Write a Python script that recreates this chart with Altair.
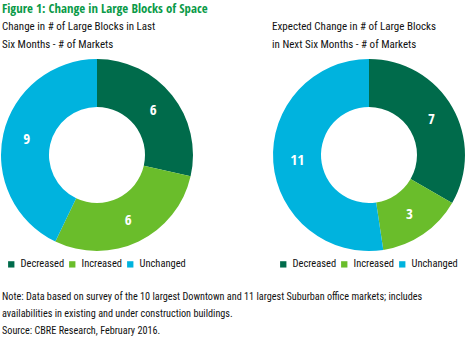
import altair as alt
import pandas as pd

categories = ["Decreased", "Increased", "Unchanged"]
left_values = [6, 6, 9]
right_values = [7, 3, 11]
colors = ["#006B4B", "#6ABD2B", "#00B3DE"]

title = "Figure 1: Change in Large Blocks of Space"
left_sub = ["Change in # of Large Blocks in Last", "Six Months - # of Markets"]
right_sub = ["Expected Change in # of Large Blocks", "in Next Six Months - # of Markets"]
notes = [
    "Note: Data based on survey of the 10 largest Downtown and 11 largest Suburban office markets; includes",
    "availabilities in existing and under construction  buildings.",
    "Source: CBRE Research, February 2016.",
]

FONT = "Roboto Condensed"
BOLD = "Open Sans Condensed"

def donut(values, cx, cy, lx):
    df = pd.DataFrame({"category": categories, "value": values, "order": [0, 1, 2]})
    base = alt.Chart(df).encode(
        theta=alt.Theta("value:Q", stack=True),
        order=alt.Order("order:Q"),
        x=alt.value(cx),
        y=alt.value(cy),
    )
    arcs = base.mark_arc(radius=96, radius2=48, stroke=None).encode(
        color=alt.Color(
            "category:N",
            scale=alt.Scale(domain=categories, range=colors),
            legend=alt.Legend(
                orient="none", legendX=lx, legendY=259, direction="horizontal",
                title=None, symbolType="square", symbolSize=40,
                labelFont=FONT, labelFontSize=10.5, labelColor="#111",
                columnPadding=2, symbolOffset=0, labelOffset=4,
            ),
        )
    )
    labels = base.mark_text(radius=72, font=BOLD, fontSize=15, fontWeight="bold", color="white").encode(
        text="value:Q"
    )
    return arcs + labels

title_l = alt.Chart(pd.DataFrame({"t": [title]})).mark_text(
    align="left", baseline="middle", font=BOLD, fontSize=12.8, fontWeight="bold", color="#0A9A48"
).encode(text="t:N", x=alt.value(2), y=alt.value(9))

def lines_layer(lines, x, ys, size):
    df = pd.DataFrame({"t": lines, "yy": ys})
    return alt.Chart(df).mark_text(
        align="left", baseline="middle", font=FONT, fontSize=size, color="#111"
    ).encode(text="t:N", x=alt.value(x), y=alt.Y("yy:Q", scale=None))

left = donut(left_values, 97, 155, 6)
right = donut(right_values, 369, 155, 278)

chart = alt.layer(
    left, right,
    title_l,
    lines_layer(left_sub, 2, [27, 45], 11),
    lines_layer(right_sub, 272, [27, 45], 11),
    lines_layer(notes, 2, [297, 314, 331], 10.2),
).resolve_scale(color="independent", y="independent").properties(
    width=466, height=356, padding=0, autosize=alt.AutoSizeParams(type="none")
).configure_view(stroke=None)

chart.save("out.html", embed_options={"renderer": "svg", "actions": False})
